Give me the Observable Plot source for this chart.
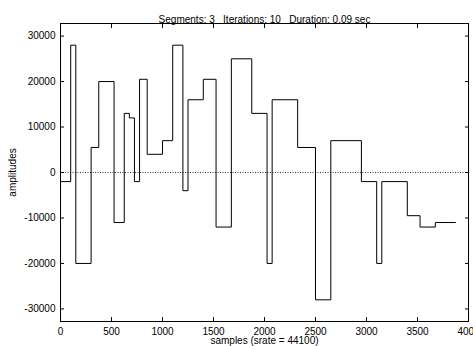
<!DOCTYPE html>
<html><head><meta charset="utf-8">
<script src="https://cdn.jsdelivr.net/npm/d3@7"></script>
<script src="https://cdn.jsdelivr.net/npm/@observablehq/plot@0.6"></script>
<style>html,body{margin:0;padding:0;background:#fff;overflow:hidden} svg text{white-space:pre}</style>
</head><body><div id="chart"></div>
<script>
const title = "Segments: 3   Iterations: 10   Duration: 0.09 sec";
const xLabel = "samples (srate = 44100)";
const yLabel = "amplitudes";
const segStarts = [0, 100, 150, 300, 375, 525, 625, 675, 725, 775, 850, 1000, 1100, 1200, 1250, 1400, 1525, 1675, 1875, 2025, 2075, 2325, 2500, 2650, 2950, 3100, 3150, 3400, 3525, 3675];
const segValues = [-2000, 28000, -20000, 5500, 20000, -11000, 13000, 12000, -2000, 20500, 4000, 7000, 28000, -4000, 16000, 20500, -12000, 25000, 13000, -20000, 16000, 5500, -28000, 7000, -2000, -20000, -2000, -9500, -12000, -11000];
const lastEnd = 3875;
const xTicks = [0, 500, 1000, 1500, 2000, 2500, 3000, 3500, 4000];
const yTicks = [-30000, -20000, -10000, 0, 10000, 20000, 30000];

const points = segStarts.map((s, i) => ({x: s, y: segValues[i]}));
points.push({x: lastEnd, y: segValues[segValues.length - 1]});

const fmt = d => String(d);
const chart = Plot.plot({
  width: 473, height: 346,
  marginLeft: 60, marginRight: 5, marginTop: 23, marginBottom: 25,
  style: {fontFamily: "'Liberation Sans', Arial, sans-serif", fontSize: "10px", color: "#000", background: "#fff"},
  x: {domain: [0, 4000]},
  y: {domain: [-32768, 32768]},
  marks: [
    Plot.ruleY([0], {stroke: "#333", strokeDasharray: "1,1.5"}),
    Plot.line(points, {x: "x", y: "y", curve: "step-after", stroke: "#000", strokeWidth: 1}),
    Plot.frame({stroke: "#000"}),
    Plot.axisX(xTicks, {anchor: "bottom", tickSize: -4, fill: "none"}),
    Plot.axisX(xTicks, {anchor: "top", tickSize: -4, fill: "none"}),
    Plot.axisY(yTicks, {anchor: "left", tickSize: -4, fill: "none"}),
    Plot.axisY(yTicks, {anchor: "right", tickSize: -4, fill: "none"}),
    Plot.axisX(xTicks, {anchor: "bottom", tickSize: 0, tickPadding: 6, tickFormat: fmt, label: xLabel, labelAnchor: "center", labelOffset: 22, labelArrow: "none"}),
    Plot.axisY(yTicks, {anchor: "left", tickSize: 0, tickPadding: 5, tickFormat: fmt, label: yLabel, labelAnchor: "center", labelOffset: 52, labelArrow: "none"}),
    Plot.text([title], {frameAnchor: "top", dy: -8, fontSize: 10})
  ]
});
document.getElementById("chart").appendChild(chart);
</script>
</body></html>
